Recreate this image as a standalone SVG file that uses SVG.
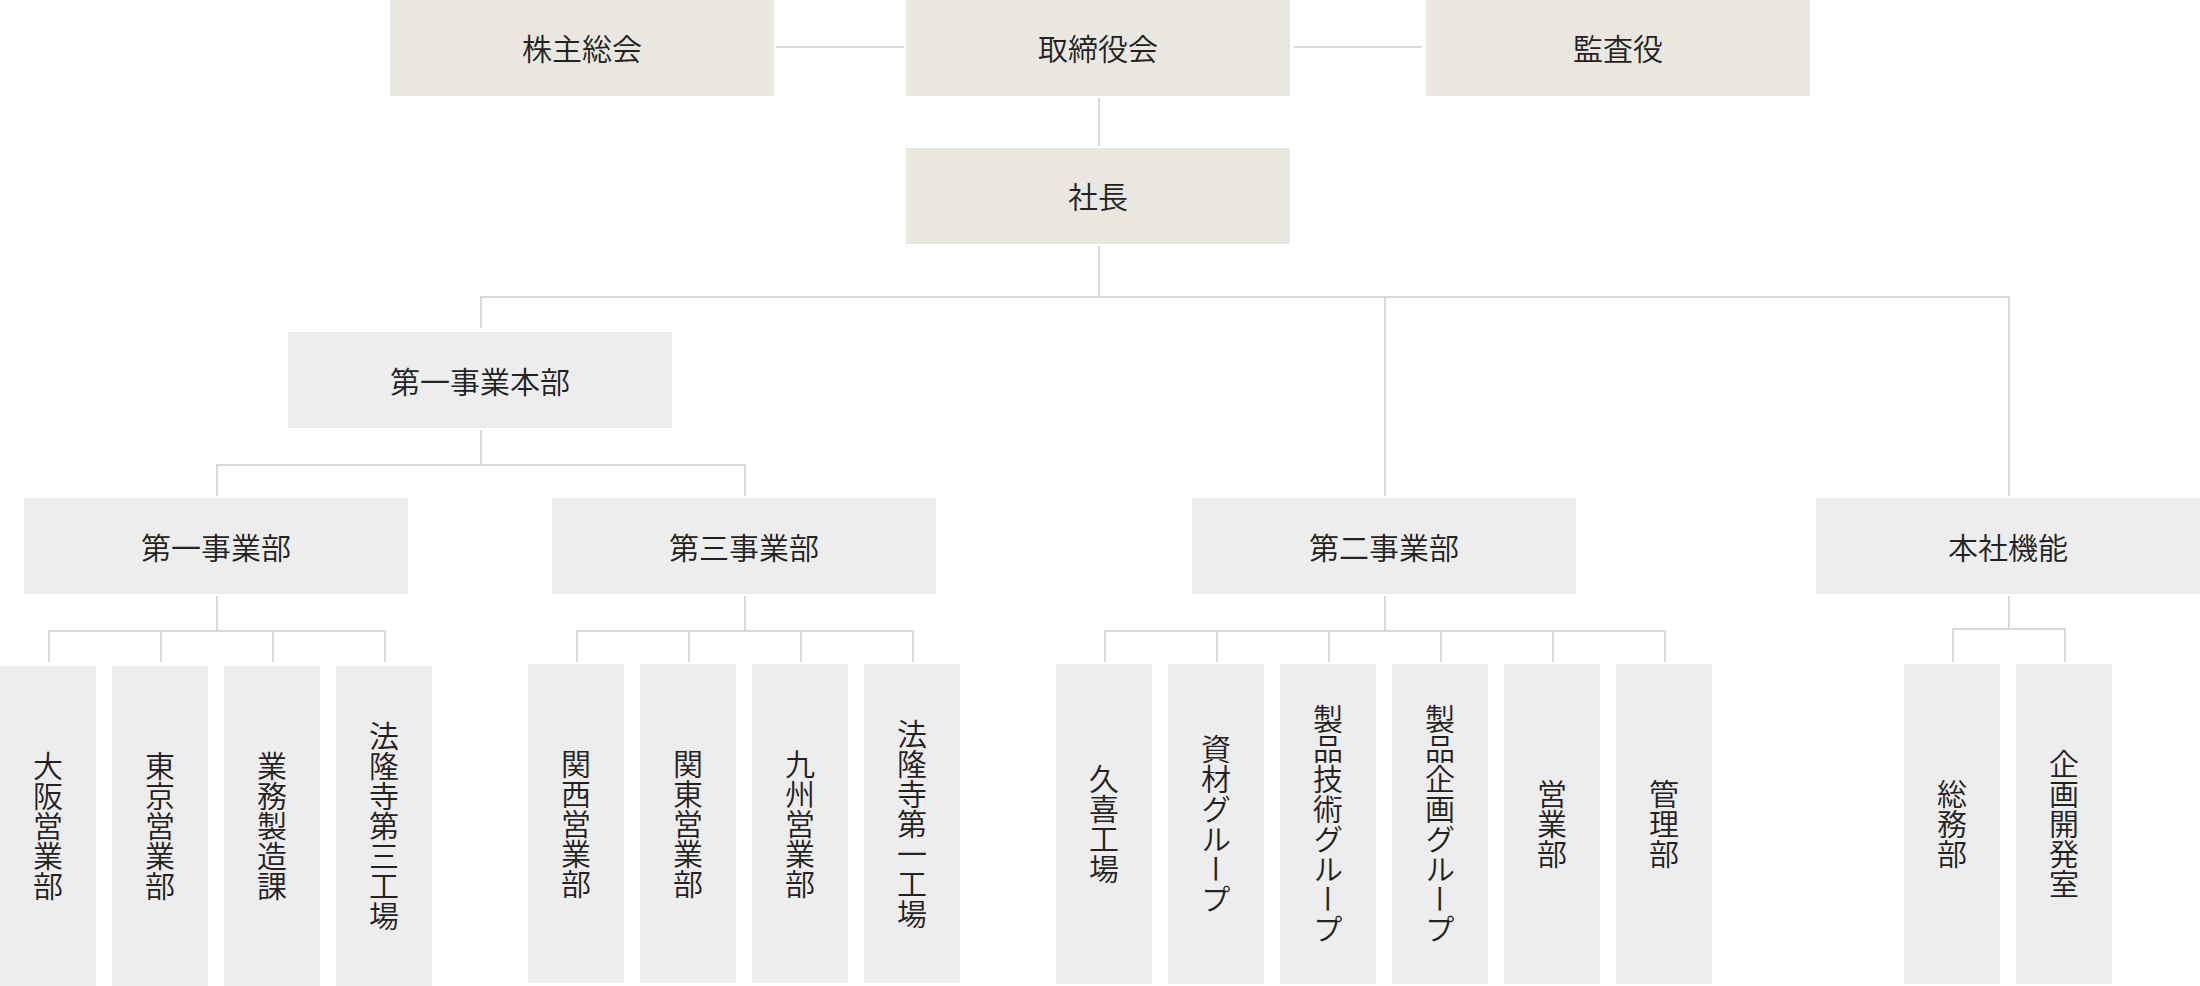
<svg xmlns="http://www.w3.org/2000/svg" width="2200" height="986" viewBox="0 0 2200 986">
<style>
.top{fill:#eae7e1}
.box{fill:#ededed}
.lbl{font-family:"Noto Sans CJK JP","Noto Sans",sans-serif;font-size:30px;font-weight:350;fill:#222;text-anchor:middle;dominant-baseline:central}
.v{writing-mode:vertical-rl;text-orientation:mixed}
.con line{stroke:#d9d9d9;stroke-width:2;fill:none}
</style>
<rect width="2200" height="986" fill="#ffffff"/>
<g class="con" id="connectors">
<line x1="776" y1="47" x2="904" y2="47"/>
<line x1="1294" y1="47" x2="1422" y2="47"/>
<line x1="1099" y1="98" x2="1099" y2="146"/>
<line x1="1099" y1="246" x2="1099" y2="297"/>
<line x1="480" y1="297" x2="2010" y2="297"/>
<line x1="481" y1="296" x2="481" y2="328"/>
<line x1="1385" y1="296" x2="1385" y2="496"/>
<line x1="2009" y1="296" x2="2009" y2="496"/>
<line x1="481" y1="430" x2="481" y2="465"/>
<line x1="216" y1="465" x2="746" y2="465"/>
<line x1="217" y1="464" x2="217" y2="496"/>
<line x1="745" y1="464" x2="745" y2="496"/>
<line x1="217" y1="596" x2="217" y2="631"/>
<line x1="48" y1="631" x2="386" y2="631"/>
<line x1="49" y1="630" x2="49" y2="662"/>
<line x1="161" y1="630" x2="161" y2="662"/>
<line x1="273" y1="630" x2="273" y2="662"/>
<line x1="385" y1="630" x2="385" y2="662"/>
<line x1="745" y1="596" x2="745" y2="631"/>
<line x1="576" y1="631" x2="914" y2="631"/>
<line x1="577" y1="630" x2="577" y2="662"/>
<line x1="689" y1="630" x2="689" y2="662"/>
<line x1="801" y1="630" x2="801" y2="662"/>
<line x1="913" y1="630" x2="913" y2="662"/>
<line x1="1385" y1="596" x2="1385" y2="631"/>
<line x1="1104" y1="631" x2="1666" y2="631"/>
<line x1="1105" y1="630" x2="1105" y2="662"/>
<line x1="1217" y1="630" x2="1217" y2="662"/>
<line x1="1329" y1="630" x2="1329" y2="662"/>
<line x1="1441" y1="630" x2="1441" y2="662"/>
<line x1="1553" y1="630" x2="1553" y2="662"/>
<line x1="1665" y1="630" x2="1665" y2="662"/>
<line x1="2009" y1="596" x2="2009" y2="629"/>
<line x1="1952" y1="629" x2="2066" y2="629"/>
<line x1="1953" y1="628" x2="1953" y2="662"/>
<line x1="2065" y1="628" x2="2065" y2="662"/>
</g>
<g id="n-kabunushi"><rect class="top" x="390" y="0" width="384" height="96"/><text class="lbl" x="582" y="47">株主総会</text></g>
<g id="n-torishimari"><rect class="top" x="906" y="0" width="384" height="96"/><text class="lbl" x="1098" y="47">取締役会</text></g>
<g id="n-kansa"><rect class="top" x="1426" y="0" width="384" height="96"/><text class="lbl" x="1618" y="47">監査役</text></g>
<g id="n-shacho"><rect class="top" x="906" y="148" width="384" height="96"/><text class="lbl" x="1098" y="195">社長</text></g>
<g id="n-honbu1"><rect class="box" x="288" y="332" width="384" height="96"/><text class="lbl" x="480" y="380">第一事業本部</text></g>
<g id="n-jigyo1"><rect class="box" x="24" y="498" width="384" height="96"/><text class="lbl" x="216" y="546">第一事業部</text></g>
<g id="n-jigyo3"><rect class="box" x="552" y="498" width="384" height="96"/><text class="lbl" x="744" y="546">第三事業部</text></g>
<g id="n-jigyo2"><rect class="box" x="1192" y="498" width="384" height="96"/><text class="lbl" x="1384" y="546">第二事業部</text></g>
<g id="n-honsha"><rect class="box" x="1816" y="498" width="384" height="96"/><text class="lbl" x="2008" y="546">本社機能</text></g>
<g id="n-osaka"><rect class="box" x="0" y="666" width="96" height="320"/><text class="lbl v" x="48" y="826">大阪営業部</text></g>
<g id="n-tokyo"><rect class="box" x="112" y="666" width="96" height="320"/><text class="lbl v" x="160" y="826">東京営業部</text></g>
<g id="n-gyomu"><rect class="box" x="224" y="666" width="96" height="320"/><text class="lbl v" x="272" y="826">業務製造課</text></g>
<g id="n-horyuji3"><rect class="box" x="336" y="666" width="96" height="320"/><text class="lbl v" x="384" y="826">法隆寺第三工場</text></g>
<g id="n-kansai"><rect class="box" x="528" y="664" width="96" height="319"/><text class="lbl v" x="576" y="824">関西営業部</text></g>
<g id="n-kanto"><rect class="box" x="640" y="664" width="96" height="319"/><text class="lbl v" x="688" y="824">関東営業部</text></g>
<g id="n-kyushu"><rect class="box" x="752" y="664" width="96" height="319"/><text class="lbl v" x="800" y="824">九州営業部</text></g>
<g id="n-horyuji1"><rect class="box" x="864" y="664" width="96" height="319"/><text class="lbl v" x="912" y="824">法隆寺第一工場</text></g>
<g id="n-kuki"><rect class="box" x="1056" y="664" width="96" height="320"/><text class="lbl v" x="1104" y="824">久喜工場</text></g>
<g id="n-shizai"><rect class="box" x="1168" y="664" width="96" height="320"/><text class="lbl v" x="1216" y="824">資材グループ</text></g>
<g id="n-seihingijutsu"><rect class="box" x="1280" y="664" width="96" height="320"/><text class="lbl v" x="1328" y="824">製品技術グループ</text></g>
<g id="n-seihinkikaku"><rect class="box" x="1392" y="664" width="96" height="320"/><text class="lbl v" x="1440" y="824">製品企画グループ</text></g>
<g id="n-eigyo"><rect class="box" x="1504" y="664" width="96" height="320"/><text class="lbl v" x="1552" y="824">営業部</text></g>
<g id="n-kanri"><rect class="box" x="1616" y="664" width="96" height="320"/><text class="lbl v" x="1664" y="824">管理部</text></g>
<g id="n-somu"><rect class="box" x="1904" y="664" width="96" height="320"/><text class="lbl v" x="1952" y="824">総務部</text></g>
<g id="n-kikakukaihatsu"><rect class="box" x="2016" y="664" width="96" height="320"/><text class="lbl v" x="2064" y="824">企画開発室</text></g>
</svg>
